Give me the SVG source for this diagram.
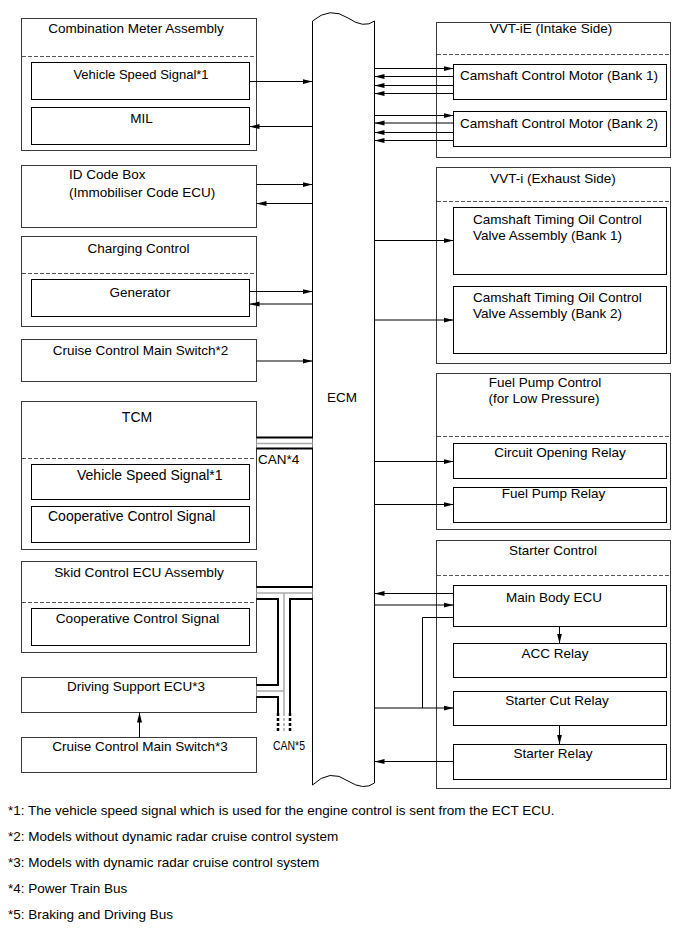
<svg xmlns="http://www.w3.org/2000/svg" width="689" height="951" viewBox="0 0 689 951">
<style>
text{font-family:"Liberation Sans",Arial,sans-serif;font-size:13.5px;fill:#000}
.c{text-anchor:middle}
.ob{fill:none;stroke:#3a3a3a;stroke-width:1}
.ib{fill:none;stroke:#000;stroke-width:1}
.dv{stroke:#555;stroke-width:1;stroke-dasharray:4,2;fill:none}
.w{stroke:#000;stroke-width:1;fill:none}
.a{stroke:#000;stroke-width:1;fill:none;marker-end:url(#ah)}
.fn{font-size:13.5px}
</style>
<defs>
<marker id="ah" markerUnits="userSpaceOnUse" markerWidth="10" markerHeight="6" refX="10" refY="3" orient="auto">
<path d="M0,0.5 L10,3 L0,5.5 z" fill="#000"/>
</marker>
</defs>

<g id="ecm">
<path d="M312.5,21 Q330,6 348,18 Q364,29 374.5,21 L374.5,783 Q364,791 348,781 Q330,768 312.5,785 Z" fill="#fff" stroke="#000"/>
<text x="342" y="402" class="c">ECM</text>
</g>

<g id="combination-meter">
<rect class="ob" x="21.5" y="18.5" width="235" height="132"/>
<text x="136" y="33" class="c">Combination Meter Assembly</text>
<line class="dv" x1="22" y1="56.5" x2="256" y2="56.5"/>
<g id="vss1"><rect class="ib" x="31.5" y="62.5" width="218" height="37"/>
<text x="141" y="79" class="c" style="font-size:13px">Vehicle Speed Signal*1</text></g>
<g id="mil"><rect class="ib" x="31.5" y="107.5" width="218" height="37"/>
<text x="141.5" y="123" class="c">MIL</text></g>
</g>

<g id="id-code-box">
<rect class="ob" x="21.5" y="165.5" width="235" height="62"/>
<text x="69" y="179">ID Code Box</text>
<text x="69" y="197">(Immobiliser Code ECU)</text>
</g>

<g id="charging-control">
<rect class="ob" x="21.5" y="236.5" width="235" height="90"/>
<text x="138.5" y="253" class="c">Charging Control</text>
<line class="dv" x1="22" y1="273.5" x2="256" y2="273.5"/>
<g id="generator"><rect class="ib" x="31.5" y="279.5" width="218" height="37"/>
<text x="140" y="297" class="c">Generator</text></g>
</g>

<g id="cruise2">
<rect class="ob" x="21.5" y="339.5" width="235" height="42"/>
<text x="140.5" y="355" class="c">Cruise Control Main Switch*2</text>
</g>

<g id="tcm">
<rect class="ob" x="21.5" y="401.5" width="235" height="148"/>
<text x="137" y="422" class="c" style="font-size:14px">TCM</text>
<line class="dv" x1="22" y1="458.5" x2="256" y2="458.5"/>
<g id="vss2"><rect class="ib" x="31.5" y="464.5" width="218" height="35"/>
<text x="77" y="480" style="font-size:14px">Vehicle Speed Signal*1</text></g>
<g id="coop1"><rect class="ib" x="31.5" y="506.5" width="218" height="36"/>
<text x="48" y="521" style="font-size:14px">Cooperative Control Signal</text></g>
</g>

<g id="skid-control">
<rect class="ob" x="21.5" y="561.5" width="235" height="91"/>
<text x="139" y="577" class="c" style="font-size:13.7px">Skid Control ECU Assembly</text>
<line class="dv" x1="22" y1="602.5" x2="256" y2="602.5"/>
<g id="coop2"><rect class="ib" x="31.5" y="608.5" width="218" height="37"/>
<text x="137.5" y="623" class="c" style="font-size:13.7px">Cooperative Control Signal</text></g>
</g>

<g id="driving-support">
<rect class="ob" x="21.5" y="677.5" width="235" height="35"/>
<text x="136" y="691" class="c">Driving Support ECU*3</text>
</g>

<g id="cruise3">
<rect class="ob" x="21.5" y="737.5" width="235" height="35"/>
<text x="140" y="751" class="c">Cruise Control Main Switch*3</text>
</g>

<g id="vvt-ie">
<rect class="ob" x="436.5" y="22.5" width="234" height="135"/>
<text x="551" y="33" class="c">VVT-iE (Intake Side)</text>
<line class="dv" x1="437" y1="54.5" x2="670" y2="54.5"/>
<g id="ccm1"><rect class="ib" x="453.5" y="64.5" width="213" height="35"/>
<text x="559" y="80" class="c">Camshaft Control Motor (Bank 1)</text></g>
<g id="ccm2"><rect class="ib" x="453.5" y="111.5" width="213" height="35"/>
<text x="559" y="128" class="c">Camshaft Control Motor (Bank 2)</text></g>
</g>

<g id="vvt-i">
<rect class="ob" x="436.5" y="167.5" width="234" height="196"/>
<text x="553" y="183" class="c">VVT-i (Exhaust Side)</text>
<line class="dv" x1="437" y1="201.5" x2="670" y2="201.5"/>
<g id="ocv1"><rect class="ib" x="453.5" y="207.5" width="213" height="67"/>
<text x="473" y="224">Camshaft Timing Oil Control</text>
<text x="473" y="240">Valve Assembly (Bank 1)</text></g>
<g id="ocv2"><rect class="ib" x="453.5" y="286.5" width="213" height="67"/>
<text x="473" y="302">Camshaft Timing Oil Control</text>
<text x="473" y="318">Valve Assembly (Bank 2)</text></g>
</g>

<g id="fuel-pump-control">
<rect class="ob" x="436.5" y="373.5" width="234" height="156"/>
<text x="545" y="387" class="c">Fuel Pump Control</text>
<text x="544" y="403" class="c">(for Low Pressure)</text>
<line class="dv" x1="437" y1="436.5" x2="670" y2="436.5"/>
<g id="cor"><rect class="ib" x="453.5" y="443.5" width="213" height="35"/>
<text x="560" y="457" class="c">Circuit Opening Relay</text></g>
<g id="fpr"><rect class="ib" x="453.5" y="487.5" width="213" height="35"/>
<text x="553.5" y="498" class="c">Fuel Pump Relay</text></g>
</g>

<g id="starter-control">
<rect class="ob" x="436.5" y="540.5" width="234" height="248"/>
<text x="553" y="555" class="c">Starter Control</text>
<line class="dv" x1="437" y1="575.5" x2="670" y2="575.5"/>
<g id="main-body"><rect class="ib" x="453.5" y="585.5" width="213" height="41"/>
<text x="554" y="602" class="c">Main Body ECU</text></g>
<g id="acc"><rect class="ib" x="453.5" y="643.5" width="213" height="34"/>
<text x="555" y="658" class="c">ACC Relay</text></g>
<g id="scr"><rect class="ib" x="453.5" y="691.5" width="213" height="34"/>
<text x="557" y="705" class="c">Starter Cut Relay</text></g>
<g id="sr"><rect class="ib" x="453.5" y="744.5" width="213" height="35"/>
<text x="553" y="758" class="c">Starter Relay</text></g>
</g>

<g id="connectors">
<line class="a" x1="249.5" y1="81.5" x2="312.5" y2="81.5"/>
<line class="a" x1="312.5" y1="126.5" x2="249.5" y2="126.5"/>
<line class="a" x1="256.5" y1="184.5" x2="312.5" y2="184.5"/>
<line class="a" x1="312.5" y1="203.5" x2="256.5" y2="203.5"/>
<line class="a" x1="249.5" y1="291.5" x2="312.5" y2="291.5"/>
<line class="a" x1="312.5" y1="304" x2="249.5" y2="304"/>
<line class="a" x1="256.5" y1="361" x2="312.5" y2="361"/>
<line class="a" x1="139.5" y1="737.5" x2="139.5" y2="712.5"/>
<line class="a" x1="374.5" y1="68.5" x2="453.5" y2="68.5"/>
<line class="a" x1="453.5" y1="76.5" x2="374.5" y2="76.5"/>
<line class="a" x1="453.5" y1="85.5" x2="374.5" y2="85.5"/>
<line class="a" x1="453.5" y1="93.5" x2="374.5" y2="93.5"/>
<line class="a" x1="374.5" y1="115.5" x2="453.5" y2="115.5"/>
<line class="a" x1="453.5" y1="123" x2="374.5" y2="123"/>
<line class="a" x1="453.5" y1="132.5" x2="374.5" y2="132.5"/>
<line class="a" x1="453.5" y1="140.5" x2="374.5" y2="140.5"/>
<line class="a" x1="374.5" y1="240.5" x2="453.5" y2="240.5"/>
<line class="a" x1="374.5" y1="320" x2="453.5" y2="320"/>
<line class="a" x1="374.5" y1="461.5" x2="453.5" y2="461.5"/>
<line class="a" x1="374.5" y1="504.5" x2="453.5" y2="504.5"/>
<line class="a" x1="453.5" y1="593.5" x2="374.5" y2="593.5"/>
<line class="a" x1="374.5" y1="605" x2="453.5" y2="605"/>
<polyline class="w" points="453.5,617.5 422.5,617.5 422.5,708"/>
<line class="a" x1="374.5" y1="708" x2="453.5" y2="708"/>
<line class="a" x1="559.5" y1="626.5" x2="559.5" y2="643.5"/>
<line class="a" x1="559.5" y1="725.5" x2="559.5" y2="744.5"/>
<line class="a" x1="453.5" y1="761.5" x2="374.5" y2="761.5"/>
<g id="can4">
<line x1="256.5" y1="443" x2="312.5" y2="443" stroke="#000" stroke-width="13"/>
<line x1="256.5" y1="443" x2="312.5" y2="443" stroke="#fff" stroke-width="9"/>
<line x1="256.5" y1="443.5" x2="312.5" y2="443.5" stroke="#aaa" stroke-width="1.5"/>
<text x="258" y="464">CAN*4</text>
</g>
<g id="can5">
<path d="M256.5,593 H312.5 M284,593 V713 M256.5,691 H284" stroke="#000" stroke-width="14" fill="none"/>
<path d="M256.5,593 H312.5 M284,593 V713 M256.5,691 H284" stroke="#fff" stroke-width="10" fill="none"/>
<path d="M256.5,593 H312.5 M284,593 V713 M256.5,691 H284" stroke="#aaa" stroke-width="1.5" fill="none"/>
<path d="M278,713 V733 M290,713 V733" stroke="#000" stroke-width="2.5" stroke-dasharray="3,2" fill="none"/>
<path d="M284,713 V733" stroke="#aaa" stroke-width="1.5" stroke-dasharray="3,2" fill="none"/>
<text x="273" y="750" style="font-size:12.5px" textLength="32" lengthAdjust="spacingAndGlyphs">CAN*5</text>
</g>
</g>

<g id="footnotes">
<text x="8" y="815" class="fn">*1: The vehicle speed signal which is used for the engine control is sent from the ECT ECU.</text>
<text x="8" y="841" class="fn">*2: Models without dynamic radar cruise control system</text>
<text x="8" y="867" class="fn">*3: Models with dynamic radar cruise control system</text>
<text x="8" y="893" class="fn">*4: Power Train Bus</text>
<text x="8" y="919" class="fn">*5: Braking and Driving Bus</text>
</g>
</svg>
